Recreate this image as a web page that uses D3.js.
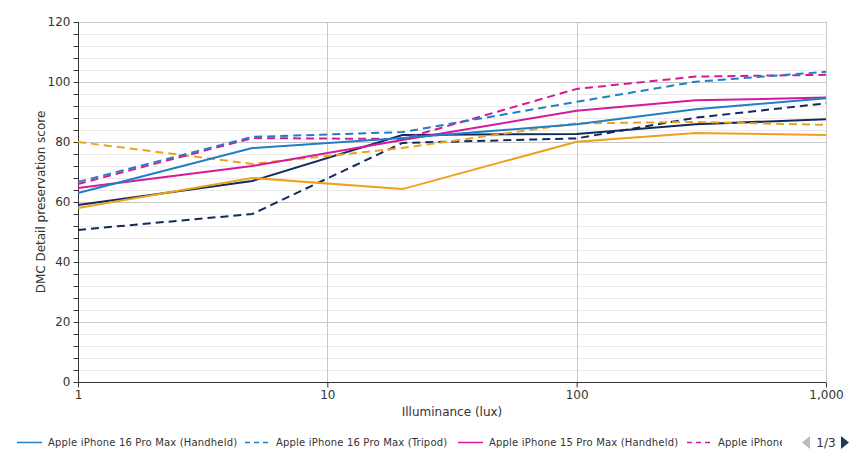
<!DOCTYPE html>
<meta charset="utf-8">
<style>
  body { margin: 0; background: #fff; }
  text { font-family: "DejaVu Sans", sans-serif; }
</style>
<svg width="861" height="458"></svg>
<script src="https://d3js.org/d3.v7.min.js"></script>
<script>
// lux levels measured
var lux = [1, 5, 20, 100, 300, 1000]

var names = [
  "Apple iPhone 16 Pro Max (Handheld)",
  "Apple iPhone 16 Pro Max (Tripod)",
  "Apple iPhone 15 Pro Max (Handheld)",
  "Apple iPhone 15 Pro Max (Tripod)",
  "Series 5 (Handheld)",
  "Series 5 (Tripod)",
  "Series 6 (Handheld)",
  "Series 6 (Tripod)"
]
var colors = ["#1f7fc6", "#1f7fc6", "#d6199c", "#d6199c", "#eda11f", "#eda11f", "#132a5c", "#132a5c"]
var dashed = [false, true, false, true, false, true, false, true]

var scores = [
  [63, 78, 81.3, 85.9, 90.9, 94.6],
  [66.7, 81.7, 83.3, 93.4, 100.1, 103.4],
  [64.7, 72, 80.7, 90.4, 93.9, 94.8],
  [66, 81.3, 81, 97.7, 101.8, 102.4],
  [58, 68, 64.3, 80.1, 83, 82.3],
  [80, 72.7, 78, 86.2, 86.7, 85.7],
  [59, 67, 82.3, 82.7, 85.9, 87.6],
  [50.7, 56, 79.7, 81.2, 88.1, 92.9]
]

var xTicks = [1, 10, 100, 1000]
var yTicks = [0, 20, 40, 60, 80, 100, 120]

var svg = d3.select("svg")
var mLeft = 78, mRight = 826, mTop = 22, mBottom = 382

var x = d3.scaleLog().domain([1, 1000]).range([mLeft, mRight])
var y = d3.scaleLinear().domain([0, 120]).range([mBottom, mTop])

// minor grid every 4
var minor = d3.range(0, 121, 4).filter(function (v) { return v % 20 !== 0 })
svg.append("g").selectAll("line").data(minor).enter().append("line")
  .attr("x1", mLeft).attr("x2", mRight)
  .attr("y1", function (d) { return y(d) + 0.5 }).attr("y2", function (d) { return y(d) + 0.5 })
  .attr("stroke", "#ebebeb")

svg.append("g").selectAll("line").data(yTicks.slice(1)).enter().append("line")
  .attr("x1", mLeft).attr("x2", mRight)
  .attr("y1", function (d) { return y(d) + 0.5 }).attr("y2", function (d) { return y(d) + 0.5 })
  .attr("stroke", "#c8c8c8")

svg.append("g").selectAll("line").data(xTicks.slice(1)).enter().append("line")
  .attr("x1", function (d) { return Math.round(x(d)) + 0.5 }).attr("x2", function (d) { return Math.round(x(d)) + 0.5 })
  .attr("y1", mTop).attr("y2", mBottom)
  .attr("stroke", "#c8c8c8")

// axes
var yAxis = svg.append("g").attr("transform", "translate(" + (mLeft + 0.5) + ",0)")
  .call(d3.axisLeft(y).tickValues(d3.range(0, 121, 4)).tickSize(5).tickPadding(3)
    .tickFormat(function (d) { return d % 20 === 0 ? d : "" }))
yAxis.select(".domain").attr("stroke", "#333").attr("d", "M0," + mTop + "V" + mBottom)
yAxis.selectAll(".tick line").attr("stroke", "#333")
yAxis.selectAll("text").attr("font-size", 12).attr("fill", "#333")

var xAxis = svg.append("g").attr("transform", "translate(0," + (mBottom + 0.5) + ")")
  .call(d3.axisBottom(x).tickValues(xTicks).tickSize(5).tickPadding(3)
    .tickFormat(d3.format(",")))
xAxis.select(".domain").attr("stroke", "#333").attr("d", "M" + mLeft + ",0H" + mRight)
xAxis.selectAll(".tick line").attr("stroke", "#333")
xAxis.selectAll("text").attr("font-size", 12).attr("fill", "#333")

svg.append("text").attr("x", (mLeft + mRight) / 2).attr("y", 416)
  .attr("text-anchor", "middle").attr("font-size", 12).attr("fill", "#333")
  .text("Illuminance (lux)")
svg.append("text").attr("transform", "translate(45," + (mTop + mBottom) / 2 + ") rotate(-90)")
  .attr("text-anchor", "middle").attr("font-size", 12).attr("fill", "#333")
  .text("DMC Detail preservation score")

// series, drawn back to front
var line = d3.line().x(function (d, i) { return x(lux[i]) }).y(function (d) { return y(d) })
var order = [7, 6, 5, 4, 3, 2, 1, 0]
svg.append("g").selectAll("path").data(order).enter().append("path")
  .attr("d", function (s) { return line(scores[s]) })
  .attr("fill", "none")
  .attr("stroke", function (s) { return colors[s] })
  .attr("stroke-width", 2)
  .attr("stroke-dasharray", function (s) { return dashed[s] ? "8,5" : null })

// legend (page 1 of 3)
var clip = svg.append("clipPath").attr("id", "legclip")
clip.append("rect").attr("x", 0).attr("y", 425).attr("width", 782).attr("height", 33)
var leg = svg.append("g").attr("clip-path", "url(#legclip)")
var legX = [17, 245, 458, 687]
var item = leg.selectAll("g").data([0, 1, 2, 3]).enter().append("g")
  .attr("transform", function (d, i) { return "translate(" + legX[i] + ",442)" })
item.append("line").attr("x1", 0).attr("x2", 25).attr("y1", 0.5).attr("y2", 0.5)
  .attr("stroke", function (d) { return colors[d] }).attr("stroke-width", 1.5)
  .attr("stroke-dasharray", function (d) { return dashed[d] ? "5,4" : null })
item.append("text").attr("x", 31).attr("y", 4).attr("font-size", 10).attr("fill", "#333")
  .attr("letter-spacing", 0.18)
  .text(function (d) { return names[d] })

// pager
svg.append("path").attr("d", "M810,436L802,442.5L810,449Z").attr("fill", "#bbb")
svg.append("text").attr("x", 826).attr("y", 447).attr("text-anchor", "middle")
  .attr("font-size", 12).attr("fill", "#333").text("1/3")
svg.append("path").attr("d", "M841,436L849,442.5L841,449Z").attr("fill", "#1b3a5c")
</script>
